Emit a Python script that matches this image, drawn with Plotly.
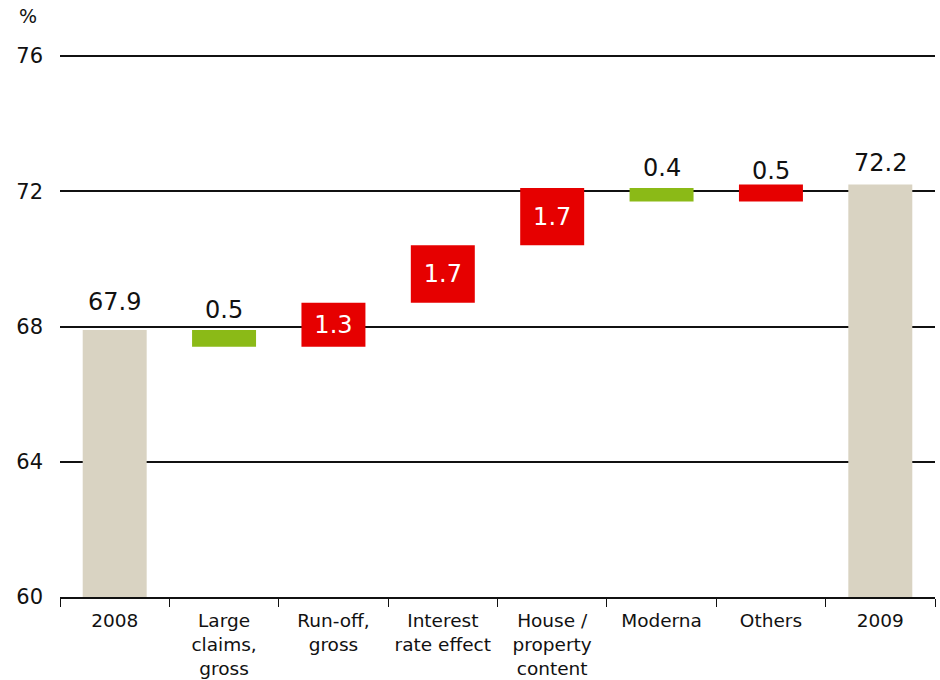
import plotly.graph_objects as go

categories = ["2008", "Large<br>claims,<br>gross", "Run-off,<br>gross", "Interest<br>rate effect",
              "House /<br>property<br>content", "Moderna", "Others", "2009"]
bases = [60, 67.4, 67.4, 68.7, 70.4, 71.7, 71.7, 60]
heights = [7.9, 0.5, 1.3, 1.7, 1.7, 0.4, 0.5, 12.2]
labels = ["67.9", "0.5", "1.3", "1.7", "1.7", "0.4", "0.5", "72.2"]

# styling
colors = ["#D9D3C2", "#8BBA17", "#E60000", "#E60000", "#E60000", "#8BBA17", "#E60000", "#D9D3C2"]
inside = [False, False, True, True, True, False, False, False]
label_shift = [28, 20, 0, 0, 0, 20, 14, 22]

font = "DejaVu Sans"
ink = "#111111"

fig = go.Figure()
fig.add_trace(go.Bar(
    x=categories, y=heights, base=bases,
    marker=dict(color=colors, line=dict(width=0)),
    width=0.585,
    text=[t if i else "" for t, i in zip(labels, inside)],
    textposition="inside",
    textfont=dict(family=font, size=24, color="white"),
    insidetextanchor="middle",
    constraintext="none",
    hoverinfo="skip",
))

# labels above bars; x given as category index (numeric-looking names like "2008" would be read as an index)
annots = []
for k, (b, h, t, i, s) in enumerate(zip(bases, heights, labels, inside, label_shift)):
    if i:
        continue
    annots.append(dict(x=k, y=b + h, text=t, showarrow=False, yanchor="middle",
                       yshift=s, font=dict(family=font, size=24, color=ink)))
annots.append(dict(text="%", x=0, y=1, xref="paper", yref="paper", xshift=-43, yshift=26,
                   showarrow=False, xanchor="left", yanchor="bottom",
                   font=dict(family=font, size=19, color=ink)))

fig.update_layout(
    width=940, height=680,
    margin=dict(l=60, r=5, t=55, b=83),
    plot_bgcolor="white", paper_bgcolor="white",
    showlegend=False,
    font=dict(family=font, color=ink),
    annotations=annots,
)
fig.update_yaxes(range=[60, 76.03], tickvals=[60, 64, 68, 72, 76], showgrid=True,
                 gridcolor=ink, gridwidth=1.5, zeroline=False, ticks="", automargin=False,
                 tickfont=dict(family=font, size=21, color=ink), ticklabelstandoff=16)
fig.update_xaxes(type="category", range=[-0.5, 7.5], showline=True, linecolor=ink, linewidth=1.5,
                 ticks="outside", tickson="boundaries", ticklen=8, tickcolor=ink, tickwidth=1,
                 tickangle=0, ticklabelstandoff=6, automargin=False,
                 tickfont=dict(family=font, size=18.5, color=ink))

fig.write_html("out.html", config={"displayModeBar": False},
               post_script="document.body.style.margin='0';")
